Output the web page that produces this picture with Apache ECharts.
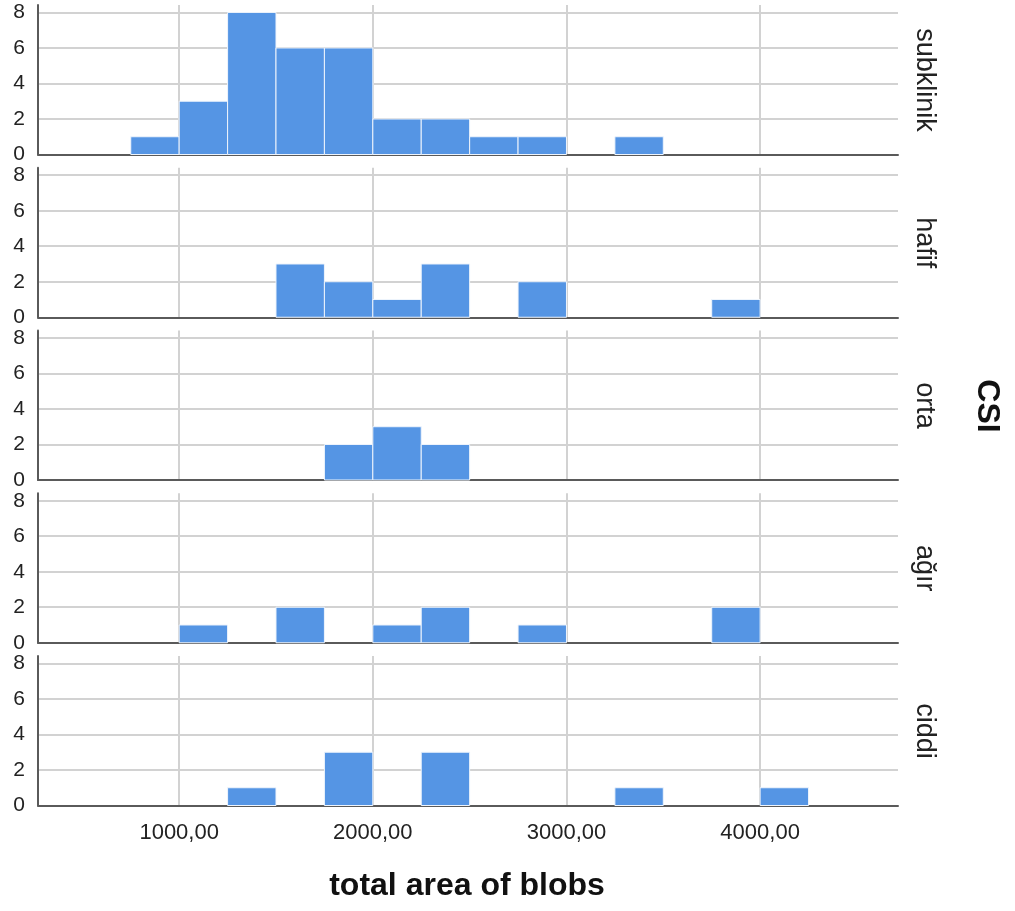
<!DOCTYPE html>
<html><head><meta charset="utf-8">
<script src="https://cdn.jsdelivr.net/npm/echarts@6/dist/echarts.min.js"></script>
<style>html,body{margin:0;padding:0;background:#fff}#c{width:1015px;height:911px}</style>
</head><body><div id="c"></div>
<script>
const panels = ['subklinik', 'hafif', 'orta', 'ağır', 'ciddi'];
const binStarts = [750,1000,1250,1500,1750,2000,2250,2500,2750,3000,3250,3500,3750,4000];
const binWidth = 250;
const countsSubklinik = [1,3,8,6,6,2,2,1,1,0,1,0,0,0];
const countsHafif     = [0,0,0,3,2,1,3,0,2,0,0,0,1,0];
const countsOrta      = [0,0,0,0,2,3,2,0,0,0,0,0,0,0];
const countsAgir      = [0,1,0,2,0,1,2,0,1,0,0,0,2,0];
const countsCiddi     = [0,0,1,0,3,0,3,0,0,0,1,0,0,1];
const xTicks = [1000,2000,3000,4000];
const yTicks = [0,2,4,6,8];
const xTitle = 'total area of blobs';
const panelTitle = 'CSI';

const allCounts = [countsSubklinik, countsHafif, countsOrta, countsAgir, countsCiddi];
const FONT = '"Liberation Sans", Arial, sans-serif';
const BAR = '#5595E4';
const GRID = '#d2d2d2';
const AXIS = '#5a5a5a';

const pitch = 162.75, top0 = 5, h = 149.5, left = 38, right = 117;
const grids = [], xAxes = [], yAxes = [], series = [], graphics = [];
panels.forEach((p, i) => {
  const top = top0 + pitch * i;
  grids.push({left, right, top, height: h});
  const last = i === panels.length - 1;
  xAxes.push({
    type: 'value', gridIndex: i, min: 271, max: 4712,
    axisLine: {show: true, onZero: false, lineStyle: {color: AXIS, width: 2}},
    axisTick: {show: false, customValues: xTicks},
    axisLabel: {show: last, customValues: xTicks, color: '#222', fontFamily: FONT, fontSize: 22, margin: 16,
      formatter: v => v.toFixed(2).replace('.', ',')},
    splitLine: {show: true, lineStyle: {color: GRID, width: 2}}
  });
  yAxes.push({
    type: 'value', gridIndex: i, min: 0, max: 8.42,
    axisLine: {show: true, lineStyle: {color: AXIS, width: 2}},
    axisTick: {show: false, customValues: yTicks},
    axisLabel: {customValues: yTicks, color: '#222', fontFamily: FONT, fontSize: 21, margin: 13},
    splitLine: {show: true, lineStyle: {color: GRID, width: 2}}
  });
  series.push({
    type: 'custom', xAxisIndex: i, yAxisIndex: i,
    data: binStarts.map((s, k) => [s, s + binWidth, allCounts[i][k]]).filter(d => d[2] > 0),
    encode: {x: [0, 1], y: 2},
    renderItem: (params, api) => {
      const a = api.coord([api.value(0), api.value(2)]);
      const b = api.coord([api.value(1), 0]);
      return {type: 'rect', shape: {x: a[0], y: a[1], width: b[0] - a[0], height: b[1] - a[1]},
        style: {fill: BAR, stroke: '#eef4fc', lineWidth: 1}};
    },
    z: 3
  });
  graphics.push({
    type: 'text', x: 924, y: top + 75, rotation: -Math.PI / 2,
    style: {text: p, font: '27px ' + FONT, fill: '#222', align: 'center', verticalAlign: 'middle'}
  });
});
graphics.push({type: 'text', x: 987, y: 406, rotation: -Math.PI / 2,
  style: {text: panelTitle, font: 'bold 32px ' + FONT, fill: '#111', align: 'center', verticalAlign: 'middle'}});
graphics.push({type: 'text', x: 467, y: 886,
  style: {text: xTitle, font: 'bold 32px ' + FONT, fill: '#111', align: 'center', verticalAlign: 'middle'}});

const chart = echarts.init(document.getElementById('c'), null, {renderer: 'canvas'});
chart.setOption({animation: false, backgroundColor: '#fff', grid: grids, xAxis: xAxes, yAxis: yAxes, series, graphic: graphics});
</script></body></html>
